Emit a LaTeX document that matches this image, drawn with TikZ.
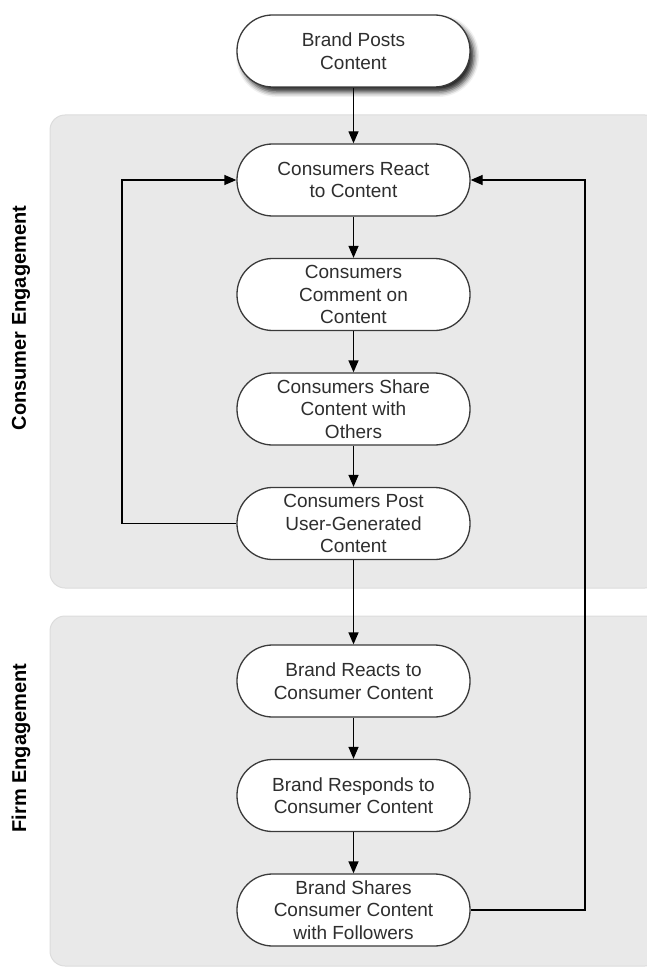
\documentclass[tikz,border=0pt]{standalone}
\usepackage{fontspec}
\setmainfont{Liberation Sans}
\usetikzlibrary{arrows.meta,shadows.blur}
\definecolor{panelfill}{HTML}{E9E9E9}
\definecolor{paneledge}{HTML}{DCDCDC}
\definecolor{nodeedge}{HTML}{3A3A3A}
\definecolor{txt}{HTML}{2E2E2E}
\begin{document}
\begin{tikzpicture}[x=1pt,y=-1pt,
  panel/.style={fill=panelfill,draw=paneledge,line width=1pt,rounded corners=15pt},
  stepbox/.style={draw=nodeedge,fill=white,line width=1.3pt,rounded corners=35.5pt,
    minimum width=233pt,minimum height=72pt,inner sep=0pt,align=center,text=txt,
    font=\fontsize{19}{22.5}\selectfont},
  lane/.style={rotate=90,font=\fontsize{20}{24}\selectfont\bfseries,text=black},
  flow/.style={draw=black,line width=1.3pt,-{Triangle[length=12pt,width=10pt]}},
  link/.style={draw=black,line width=1.3pt}]
\useasboundingbox (0,0) rectangle (647,968);
% panels
\path[panel] (50,115) rectangle (660,588);
\path[panel] (50,616) rectangle (660,966);
\node[lane] (lc) at (21,318) {Consumer Engagement};
\node[lane] (lf) at (21,748) {Firm Engagement};
% nodes
\node[stepbox,blur shadow={shadow xshift=4pt,shadow yshift=-5pt,shadow opacity=85,shadow blur radius=5pt}] (bp) at (353.5,51) {Brand Posts\\Content};
\node[stepbox] (cr) at (353.5,180) {Consumers React\\to Content};
\node[stepbox] (cc) at (353.5,294.5) {Consumers\\Comment on\\Content};
\node[stepbox] (cs) at (353.5,409) {Consumers Share\\Content with\\Others};
\node[stepbox] (cp) at (353.5,523.5) {Consumers Post\\User-Generated\\Content};
\node[stepbox] (br) at (353.5,681) {Brand Reacts to\\Consumer Content};
\node[stepbox] (bs) at (353.5,795.5) {Brand Responds to\\Consumer Content};
\node[stepbox] (bf) at (353.5,910) {Brand Shares\\Consumer Content\\with Followers};
\coordinate (l1) at (122,523.5);
\coordinate (l2) at (122,180);
\coordinate (r1) at (585,910);
\coordinate (r2) at (585,180);
% connectors
\draw[flow] (bp) -- (cr);
\draw[flow] (cr) -- (cc);
\draw[flow] (cc) -- (cs);
\draw[flow] (cs) -- (cp);
\draw[flow] (cp) -- (br);
\draw[flow] (br) -- (bs);
\draw[flow] (bs) -- (bf);
\draw[flow] (cp.west) -- (l1) -- (l2) -- (cr.west);
\draw[flow] (bf.east) -- (r1) -- (r2) -- (cr.east);
\end{tikzpicture}
\end{document}
